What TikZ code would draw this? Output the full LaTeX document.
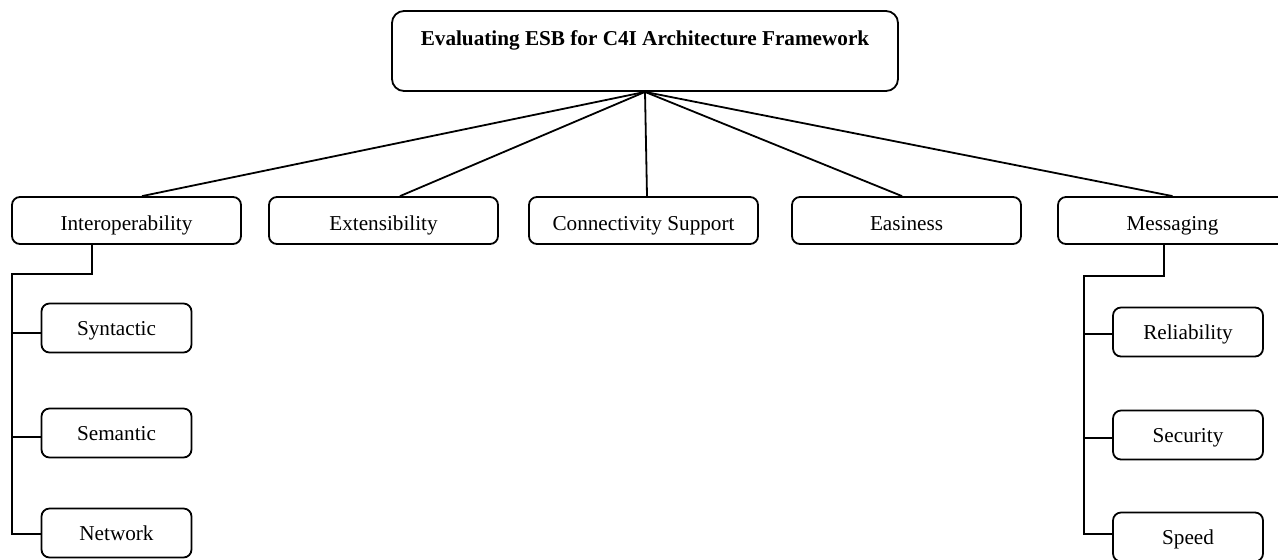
\documentclass[tikz,border=0pt]{standalone}
\usepackage{fontspec}
\setmainfont{Liberation Serif}

\begin{document}
\begin{tikzpicture}[x=0.5pt,y=-0.5pt,line width=0.9pt,
		font=\fontsize{10.6}{12.7}\selectfont,
		box/.style={draw,rounded corners=4pt,minimum width=114.5pt,minimum height=23.5pt,inner sep=0pt,text height=10pt,text depth=0.5pt},
		subbox/.style={draw,rounded corners=4pt,minimum width=75pt,minimum height=24.5pt,inner sep=0pt,text height=9pt,text depth=1.5pt}]
			\useasboundingbox (0,0) rectangle (1278,559);
			\draw (645,51) node [draw,rounded corners=6pt,minimum width=253pt,inner sep=0pt,text height=17pt,text depth=23pt] (top) {\textbf{Evaluating ESB for C4I Architecture Framework}};
			\draw (126.5,220.5) node [box] (int) {Interoperability};
			\draw (383.5,220.5) node [box] (ext) {Extensibility};
			\draw (643.5,220.5) node [box] (con) {Connectivity Support};
			\draw (906.5,220.5) node [box] (eas) {Easiness};
			\draw (1172.5,220.5) node [box] (msg) {Messaging};
			\draw (116.5,328) node [subbox] (syn) {Syntactic};
			\draw (116.5,433) node [subbox] (sem) {Semantic};
			\draw (116.5,533) node [subbox] (net) {Network};
			\draw (1188,332) node [subbox] (rel) {Reliability};
			\draw (1188,435) node [subbox] (sec) {Security};
			\draw (1188,537) node [subbox] (spd) {Speed};
			\path
				(top.south) edge ([xshift=7.75pt]int.north)
					edge ([xshift=8.25pt]ext.north)
					edge ([xshift=1.75pt]con.north)
					edge ([xshift=-2.25pt]eas.north)
					edge (msg.north);
			% left branch
			\coordinate (lstub) at (92,274);
			\coordinate (ljoin) at (12,274);
			\draw (int.south -| lstub) -- (lstub) -- (ljoin) |- ([yshift=-0.5pt]net.west);
			\draw (ljoin |- syn.west) ++(0,5) -- ([yshift=-2.5pt]syn.west);
			\draw (ljoin |- sem.west) ++(0,4) -- ([yshift=-2pt]sem.west);
			% right branch
			\coordinate (rstub) at (1164,276);
			\coordinate (rjoin) at (1084,276);
			\draw (msg.south -| rstub) -- (rstub) -- (rjoin) |- ([yshift=1.5pt]spd.west);
			\draw (rjoin |- rel.west) ++(0,2) -- ([yshift=-1pt]rel.west);
			\draw (rjoin |- sec.west) ++(0,3) -- ([yshift=-1.5pt]sec.west);
		\end{tikzpicture}
\end{document}
